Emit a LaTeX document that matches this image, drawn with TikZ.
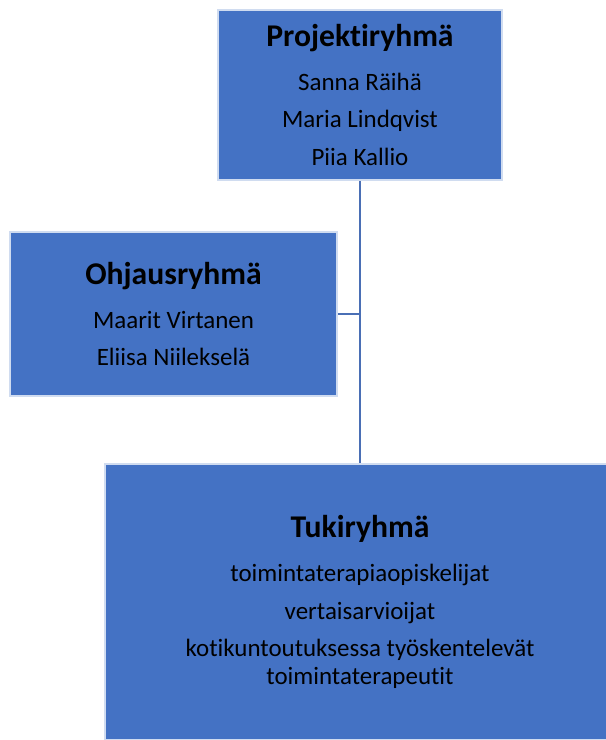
\documentclass[tikz,border=0pt]{standalone}
\usepackage{fontspec}
\setmainfont{Carlito}[Ligatures={NoCommon}]
\usetikzlibrary{positioning}
\definecolor{boxblue}{HTML}{4472C4}
\definecolor{linkblue}{HTML}{4A6FB5}

\begin{document}
\begin{tikzpicture}[x=0.01cm, y=-0.01cm,
    group/.style={draw=white!75!boxblue, fill=boxblue, line width=0.5pt, align=center,
        inner sep=0pt, font=\fontsize{7.1}{8}\selectfont},
    link/.style={draw=linkblue, line width=0.6pt}]
    \useasboundingbox (0,0) rectangle (605,740);

    % Groups
    \node[group, minimum width=2.84cm, minimum height=1.70cm] (proj) at (360,95)
        {{\bfseries\fontsize{9}{11}\selectfont Projektiryhmä}\\[4.5pt]
         Sanna Räihä\\[2.6pt] Maria Lindqvist\\[2.6pt] Piia Kallio};
    \node[group, minimum width=3.27cm, minimum height=1.64cm] (ohj) at (173.5,314)
        {{\bfseries\fontsize{9}{11}\selectfont Ohjausryhmä}\\[4.5pt]
         Maarit Virtanen\\[2.6pt] Eliisa Niilekselä};
    \node[group, minimum width=5.10cm, minimum height=2.76cm] (tuki) at (360,602)
        {{\bfseries\fontsize{9}{11}\selectfont Tukiryhmä}\\[4.5pt]
         toimintaterapiaopiskelijat\\[2.6pt] vertaisarvioijat\\[2.6pt]
         kotikuntoutuksessa työskentelevät\\ toimintaterapeutit};

    % Links
    \draw[link] (proj.south) -- (tuki.north);
    \draw[link] (ohj.east) -- (ohj.east -| proj.south);
\end{tikzpicture}
\end{document}
